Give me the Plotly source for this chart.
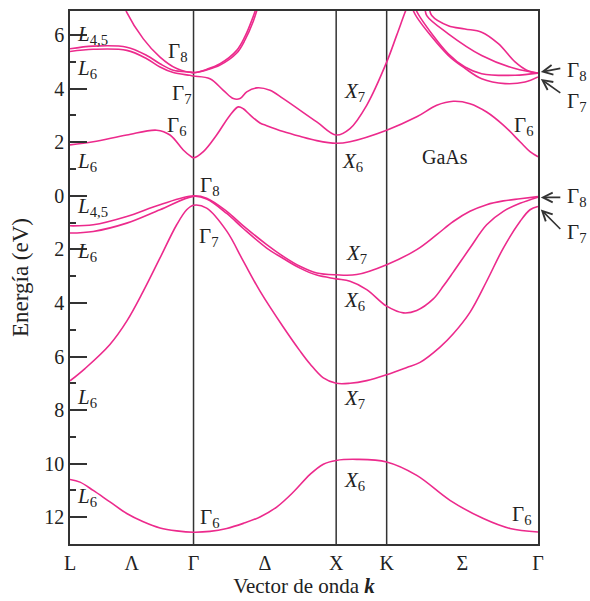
import plotly.graph_objects as go

# high-symmetry points along the k path (units of 2*pi/a)
sym_k = [0.0, 0.866, 1.866, 2.220, 3.281]
sym_labels = ["L", "Γ", "X", "K", "Γ"]
mid_k = [0.433, 1.366, 2.75]
mid_labels = ["Λ", "Δ", "Σ"]

# y ticks (energies shown without minus sign, as in the original)
ytick_vals = [-12, -10, -8, -6, -4, -2, 0, 2, 4, 6]
ytick_text = ["12", "10", "8", "6", "4", "2", "0", "2", "4", "6"]

# ---- bands (k, energy in eV) ----
b1_k = [0.0, 0.070, 0.163, 0.280, 0.398, 0.514, 0.631, 0.748, 0.866, 0.981, 1.099, 1.215, 1.332, 1.449, 1.566, 1.683, 1.776, 1.866, 2.010, 2.220, 2.431, 2.664, 2.898, 3.085, 3.281]
b1_e = [-10.59, -10.69, -11.0, -11.43, -11.86, -12.17, -12.40, -12.51, -12.56, -12.53, -12.42, -12.23, -11.99, -11.62, -11.06, -10.40, -10.02, -9.88, -9.84, -9.94, -10.44, -11.37, -12.05, -12.42, -12.55]

b2_k = [0.0, 0.105, 0.280, 0.398, 0.514, 0.631, 0.748, 0.818, 0.866, 0.958, 1.099, 1.215, 1.332, 1.495, 1.612, 1.683, 1.776, 1.866, 1.963, 2.080, 2.220, 2.361, 2.454, 2.594, 2.687, 2.804, 2.921, 3.038, 3.155, 3.225, 3.281]
b2_e = [-6.91, -6.45, -5.55, -4.68, -3.56, -2.32, -1.08, -0.52, -0.35, -0.46, -1.32, -2.44, -3.56, -4.90, -5.79, -6.28, -6.80, -7.0, -7.0, -6.90, -6.68, -6.41, -6.22, -5.65, -5.15, -4.35, -3.19, -1.95, -0.96, -0.52, -0.40]

b3_k = [0.0, 0.163, 0.398, 0.631, 0.866, 0.958, 1.099, 1.215, 1.379, 1.495, 1.612, 1.730, 1.866, 1.963, 2.080, 2.220, 2.337, 2.431, 2.547, 2.620, 2.687, 2.804, 2.921, 3.038, 3.155, 3.281]
b3_e = [-1.39, -1.33, -1.02, -0.52, -0.02, -0.12, -0.66, -1.22, -1.95, -2.34, -2.70, -2.96, -3.10, -3.19, -3.50, -4.12, -4.37, -4.28, -3.85, -3.35, -2.85, -1.95, -1.08, -0.58, -0.28, -0.05]

b4_k = [0.0, 0.163, 0.398, 0.631, 0.866, 0.958, 1.099, 1.215, 1.379, 1.495, 1.612, 1.730, 1.866, 2.010, 2.220, 2.431, 2.571, 2.687, 2.804, 2.921, 3.038, 3.155, 3.281]
b4_e = [-1.12, -1.08, -0.77, -0.33, 0.0, -0.09, -0.58, -1.12, -1.82, -2.26, -2.63, -2.88, -2.95, -2.94, -2.57, -2.01, -1.45, -0.96, -0.58, -0.33, -0.19, -0.11, -0.03]

b5_k = [0.0, 0.163, 0.398, 0.608, 0.701, 0.794, 0.840, 0.866, 0.935, 1.028, 1.122, 1.180, 1.215, 1.262, 1.332, 1.379, 1.495, 1.612, 1.730, 1.866, 1.963, 2.220, 2.431, 2.571, 2.687, 2.804, 2.921, 3.038, 3.155, 3.225, 3.281]
b5_e = [1.90, 2.02, 2.27, 2.45, 2.27, 1.71, 1.50, 1.42, 1.65, 2.27, 3.01, 3.32, 3.25, 3.02, 2.72, 2.62, 2.40, 2.22, 2.06, 1.96, 2.02, 2.45, 2.95, 3.38, 3.53, 3.44, 3.13, 2.64, 2.02, 1.65, 1.46]

b6_k = [0.0, 0.163, 0.398, 0.538, 0.631, 0.724, 0.841, 0.866, 0.981, 1.075, 1.145, 1.192, 1.239, 1.309, 1.402, 1.495, 1.730, 1.866, 1.963, 2.080, 2.220, 2.290, 2.349, 2.375]
b6_e = [5.39, 5.47, 5.43, 5.12, 4.81, 4.60, 4.50, 4.47, 4.37, 3.94, 3.63, 3.63, 3.88, 4.03, 3.94, 3.63, 2.76, 2.27, 2.51, 3.38, 4.99, 5.99, 6.85, 7.2]

b7_k = [0.0, 0.163, 0.398, 0.538, 0.631, 0.724, 0.841, 0.866, 0.958, 1.052, 1.169, 1.227, 1.285, 1.32]
b7_e = [5.49, 5.59, 5.55, 5.24, 4.93, 4.69, 4.62, 4.60, 4.70, 4.88, 5.33, 5.82, 6.52, 7.1]

b8_k = [0.380, 0.398, 0.514, 0.631, 0.748, 0.866, 0.958, 1.052, 1.169, 1.227, 1.285, 1.31]
b8_e = [7.1, 6.85, 5.86, 5.18, 4.75, 4.60, 4.72, 4.93, 5.43, 5.95, 6.70, 7.1]

b9_k = [2.52, 2.536, 2.652, 2.769, 2.886, 3.003, 3.120, 3.202, 3.281]
b9_e = [7.0, 6.73, 6.35, 6.23, 6.11, 5.68, 5.00, 4.69, 4.58]

b10_k = [2.49, 2.501, 2.652, 2.886, 3.120, 3.281]
b10_e = [7.0, 6.73, 6.05, 5.24, 4.75, 4.58]

b11_k = [2.42, 2.454, 2.652, 2.769, 2.886, 3.120, 3.281]
b11_e = [7.0, 6.67, 5.30, 4.81, 4.56, 4.50, 4.58]

b12_k = [2.40, 2.431, 2.652, 2.769, 2.886, 3.050, 3.190, 3.281]
b12_e = [7.0, 6.67, 5.24, 4.76, 4.37, 4.19, 4.25, 4.44]

bands = [(b1_k, b1_e), (b2_k, b2_e), (b3_k, b3_e), (b4_k, b4_e), (b5_k, b5_e),
         (b6_k, b6_e), (b7_k, b7_e), (b8_k, b8_e), (b9_k, b9_e), (b10_k, b10_e),
         (b11_k, b11_e), (b12_k, b12_e)]

BAND_COLOR = "#EC2A8C"
AX_COLOR = "#333333"
FONT = "Liberation Serif, Times New Roman, serif"

fig = go.Figure()
for bk, be in bands:
    fig.add_trace(go.Scatter(x=bk, y=be, mode="lines",
                             line=dict(color=BAND_COLOR, width=1.6, shape="spline", smoothing=1.0),
                             hoverinfo="skip", showlegend=False, cliponaxis=True))

# vertical lines at interior symmetry points
for xv in sym_k[1:4]:
    fig.add_shape(type="line", xref="x", yref="paper", x0=xv, x1=xv, y0=0, y1=1,
                  line=dict(color=AX_COLOR, width=1.5), layer="below")

# labels inside plot: (k, E, html text)
labels = [
    (0.035, 6.0, "<i>L</i><sub>4,5</sub>"),
    (0.035, 4.72, "<i>L</i><sub>6</sub>"),
    (0.673, 5.37, "Γ<sub>8</sub>"),
    (0.701, 3.80, "Γ<sub>7</sub>"),
    (0.666, 2.61, "Γ<sub>6</sub>"),
    (0.035, 1.28, "<i>L</i><sub>6</sub>"),
    (0.897, 0.35, "Γ<sub>8</sub>"),
    (0.035, -0.40, "<i>L</i><sub>4,5</sub>"),
    (0.890, -1.52, "Γ<sub>7</sub>"),
    (0.035, -2.11, "<i>L</i><sub>6</sub>"),
    (0.035, -7.54, "<i>L</i><sub>6</sub>"),
    (0.035, -11.26, "<i>L</i><sub>6</sub>"),
    (0.897, -12.04, "Γ<sub>6</sub>"),
    (1.907, 3.88, "<i>X</i><sub>7</sub>"),
    (1.893, 1.28, "<i>X</i><sub>6</sub>"),
    (1.921, -2.18, "<i>X</i><sub>7</sub>"),
    (1.907, -3.93, "<i>X</i><sub>6</sub>"),
    (1.907, -7.58, "<i>X</i><sub>7</sub>"),
    (1.907, -10.63, "<i>X</i><sub>6</sub>"),
    (3.099, 2.61, "Γ<sub>6</sub>"),
    (3.085, -11.93, "Γ<sub>6</sub>"),
]
for lx, ly, lt in labels:
    fig.add_annotation(x=lx, y=ly, xref="x", yref="y", text=lt, showarrow=False,
                       xanchor="left", yanchor="middle",
                       font=dict(family=FONT, size=21, color="#222"))

fig.add_annotation(x=2.629, y=1.46, xref="x", yref="y", text="GaAs", showarrow=False,
                   xanchor="center", yanchor="middle", font=dict(family=FONT, size=20, color="#222"))

# outside labels with arrows at the right Γ point: (head E, tail dy px, text, text E)
outside = [
    (4.62, -4, "Γ<sub>8</sub>", 4.66),
    (4.36, 15, "Γ<sub>7</sub>", 3.50),
    (-0.06, 0, "Γ<sub>8</sub>", -0.06),
    (-0.51, 21, "Γ<sub>7</sub>", -1.38),
]
for hy, ay, txt, ty in outside:
    fig.add_annotation(x=1.006, y=hy, xref="paper", yref="y", text="", showarrow=True,
                       ax=21, ay=ay, axref="pixel", ayref="pixel",
                       arrowhead=5, arrowsize=1.2, arrowwidth=1.6, arrowcolor=AX_COLOR)
    fig.add_annotation(x=1.058, y=ty, xref="paper", yref="y", text=txt, showarrow=False,
                       xanchor="left", yanchor="middle",
                       font=dict(family=FONT, size=21, color="#222"))

fig.update_layout(
    width=590, height=601,
    margin=dict(l=70, r=52, t=9, b=57),
    paper_bgcolor="white", plot_bgcolor="white",
    font=dict(family=FONT, size=19, color="#222"),
    showlegend=False,
)
fig.update_xaxes(range=[sym_k[0], sym_k[-1]],
                 tickvals=sym_k[:1] + [mid_k[0]] + [sym_k[1]] + [mid_k[1]] + sym_k[2:4] + [mid_k[2]] + [sym_k[4]],
                 ticktext=[sym_labels[0], mid_labels[0], sym_labels[1], mid_labels[1], sym_labels[2], sym_labels[3], mid_labels[2], sym_labels[4]],
                 ticks="", showgrid=False, zeroline=False,
                 showline=True, mirror=True, linecolor=AX_COLOR, linewidth=1.5,
                 tickfont=dict(family=FONT, size=20, color="#222"),
                 title=dict(text="Vector de onda <b><i>k</i></b>", font=dict(family=FONT, size=21, color="#222"), standoff=4))
fig.update_yaxes(range=[-13.0, 6.9], tickvals=ytick_vals, ticktext=ytick_text,
                 ticks="inside", ticklen=17, tickwidth=1.5, tickcolor=AX_COLOR,
                 minor=dict(dtick=1, tick0=-13, ticks="inside", ticklen=6, tickwidth=1.5, tickcolor=AX_COLOR, showgrid=False),
                 showgrid=False, zeroline=False,
                 showline=True, mirror=True, linecolor=AX_COLOR, linewidth=1.5,
                 tickfont=dict(family=FONT, size=20, color="#222"),
                 title=dict(text="Energía (eV)", font=dict(family=FONT, size=23, color="#222"), standoff=9))

fig.write_html("out.html")
